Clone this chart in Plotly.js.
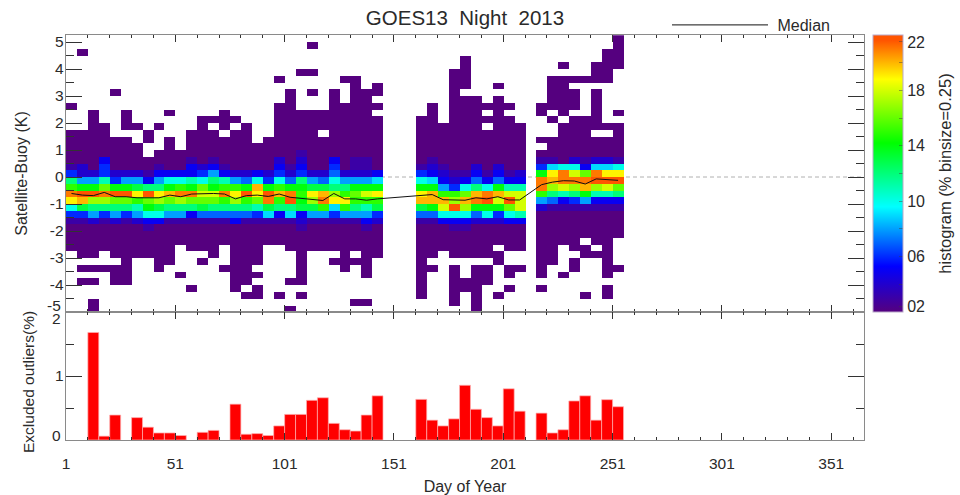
<!DOCTYPE html>
<html>
<head>
<meta charset="utf-8">
<script src="https://cdn.plot.ly/plotly-3.0.1.min.js"></script>
<style>html,body{margin:0;padding:0;background:#fff}</style>
</head>
<body>
<div id="chart" style="width:960px;height:495px"></div>
<script>
// Day of year: 5-day bins, bin index i starts on day 1+5i
const binDays = 5;
const binCount = 51;
const kBin = 0.25;

// Sparse histogram cells (~2 %): for each lower bin edge in K, inclusive column spans
const sparseRows = [
  [5.0,  [[50,50]]],
  [4.75, [[22,22],[50,50]]],
  [4.5,  [[1,1],[49,50]]],
  [4.25, [[36,36],[49,50]]],
  [4.0,  [[36,36],[45,45],[48,50]]],
  [3.75, [[21,22],[35,36],[48,49]]],
  [3.5,  [[19,19],[25,26],[35,36],[44,49]]],
  [3.25, [[26,26],[28,28],[35,36],[39,39],[44,45]]],
  [3.0,  [[4,4],[20,20],[22,22],[24,24],[26,28],[35,35],[44,46],[48,48]]],
  [2.75, [[20,20],[24,24],[26,27],[35,37],[39,39],[44,46],[48,48]]],
  [2.5,  [[0,0],[19,20],[24,28],[33,33],[35,40],[43,46],[48,48]]],
  [2.25, [[2,2],[5,5],[9,9],[14,14],[19,27],[33,33],[35,37],[39,39],[43,43],[45,45],[48,48],[50,50]]],
  [2.0,  [[2,2],[5,5],[12,15],[19,28],[32,33],[35,40],[44,44],[46,48]]],
  [1.75, [[2,3],[5,6],[8,8],[12,12],[14,14],[16,16],[19,28],[32,37],[39,41],[45,50]]],
  [1.5,  [[0,3],[7,7],[11,13],[15,16],[19,22],[24,28],[32,41],[45,47],[50,50]]],
  [1.25, [[0,5],[7,7],[9,9],[11,16],[18,28],[32,41],[43,50]]],
  [1.0,  [[0,6],[9,9],[11,28],[32,41],[44,50]]],
  [0.75, [[0,6],[8,28],[32,41],[43,50]]],
  [0.5,  [[0,28],[32,41],[43,50]]],
  [0.25, [[0,28],[32,41],[43,50]]],
  [0,    [[0,28],[32,41],[43,50]]],
  [-0.25,[[0,28],[32,41],[43,50]]],
  [-0.5, [[0,28],[32,41],[43,50]]],
  [-0.75,[[0,28],[32,41],[43,50]]],
  [-1,   [[0,28],[32,41],[43,50]]],
  [-1.25,[[0,28],[32,41],[43,50]]],
  [-1.5, [[0,28],[32,41],[43,50]]],
  [-1.75,[[0,28],[32,41],[43,50]]],
  [-2,   [[0,28],[32,41],[43,50]]],
  [-2.25,[[0,28],[32,41],[43,50]]],
  [-2.5, [[0,28],[32,41],[43,46],[48,49]]],
  [-2.75,[[0,9],[11,13],[15,17],[20,28],[32,38],[40,41],[43,44],[46,47],[49,49]]],
  [-3,   [[1,2],[4,9],[13,13],[15,17],[21,21],[25,25],[27,28],[32,33],[35,39],[43,44],[47,49]]],
  [-3.25,[[5,5],[8,9],[12,12],[15,17],[21,21],[24,27],[32,32],[39,39],[43,44],[46,46],[49,49]]],
  [-3.5, [[1,5],[8,8],[14,16],[21,21],[25,25],[27,27],[32,33],[35,35],[37,38],[40,41],[43,43],[46,46],[49,50]]],
  [-3.75,[[4,5],[10,10],[15,17],[21,21],[27,27],[32,32],[35,35],[37,38],[40,40],[43,43],[45,45],[49,49]]],
  [-4,   [[1,2],[4,5],[15,16],[20,21],[32,32],[35,38]]],
  [-4.25,[[11,11],[15,15],[17,17],[32,32],[35,37],[40,40],[43,43],[49,49]]],
  [-4.5, [[16,17],[19,19],[21,21],[32,32],[35,35],[37,37],[39,39],[47,47],[49,49]]],
  [-4.75,[[2,2],[26,27],[35,35],[37,37]]],
  [-5,   [[2,2],[20,20],[37,37]]]
];

// Lower bin edges of the dense core rows
const coreEdges = [0.75,0.5,0.25,0,-0.25,-0.5,-0.75,-1,-1.25,-1.5,-1.75,-2];
// Core histogram values (%) per column, same order as coreEdges
const coreValues = {
  0:[2,2,3,6,12,15,21,19,10,6,3,2],
  1:[2,2,4,4,8,14,22,20,13,6,3,2],
  2:[2,2,2,4,8,14,22,17,12,8,4,2],
  3:[2,5,6,6,11,16,21,17,12,6,3,2],
  4:[2,2,2,4,6,14,22,16,12,8,4,2],
  5:[2,2,2,4,8,14,22,16,12,6,3,2],
  6:[2,2,2,4,8,13,19,15,11,8,4,2],
  7:[2,2,2,3,5,12,22,16,14,10,5,3],
  8:[2,2,3,5,8,12,19,17,13,10,5,2],
  9:[2,2,2,5,10,14,20,16,12,8,3,2],
  10:[2,2,2,5,10,15,21,17,12,8,3,2],
  11:[2,3,5,5,11,14,21,16,12,5,3,2],
  12:[2,2,4,6,10,16,18,16,13,7,3,2],
  13:[2,3,5,8,12,14,18,16,12,7,3,2],
  14:[2,2,3,5,11,15,21,15,12,7,3,2],
  15:[2,2,2,4,8,15,19,17,12,7,5,2],
  16:[2,2,2,4,7,14,22,15,12,7,3,2],
  17:[2,2,2,5,10,20,19,16,11,6,3,2],
  18:[2,2,2,4,6,14,22,21,13,9,3,2],
  19:[2,4,5,6,10,15,20,15,12,5,3,2],
  20:[2,2,3,4,7,14,21,22,12,9,3,2],
  21:[3,4,5,6,12,14,15,14,13,5,4,3],
  22:[2,2,2,4,8,13,19,17,13,8,3,2],
  23:[2,2,2,4,7,13,20,21,15,8,3,2],
  24:[2,5,6,7,10,12,17,19,9,6,3,2],
  25:[2,2,2,4,8,12,15,19,15,8,3,2],
  26:[2,3,3,4,8,14,16,15,12,8,3,2],
  27:[2,3,3,4,8,14,18,15,11,8,5,3],
  28:[2,2,2,5,9,14,19,15,13,6,4,2],
  32:[2,2,3,6,10,14,19,20,13,7,3,2],
  33:[2,3,4,5,9,14,20,20,14,7,3,2],
  34:[2,2,3,4,5,8,15,20,18,10,5,2],
  35:[2,2,2,3,4,6,15,17,22,10,5,3],
  36:[2,2,2,3,5,10,16,20,17,10,5,3],
  37:[2,2,4,5,7,12,20,21,14,7,4,2],
  38:[2,2,2,3,5,10,21,22,14,10,4,2],
  39:[2,2,4,5,7,14,20,18,14,6,4,2],
  40:[2,2,2,3,5,11,18,22,16,10,5,2],
  41:[2,2,2,4,5,11,18,18,18,11,5,2],
  43:[2,3,6,14,21,21,15,8,4,2,2,2],
  44:[2,3,9,19,20,17,12,7,3,2,2,2],
  45:[2,2,10,21,21,18,11,5,3,2,2,2],
  46:[2,4,10,18,21,17,12,6,3,2,2,2],
  47:[2,3,5,16,21,20,14,8,3,2,2,2],
  48:[2,4,9,21,22,17,11,5,3,2,2,2],
  49:[2,4,9,19,22,18,11,5,3,2,2,2],
  50:[2,3,10,19,22,16,12,5,3,2,2,2]
};

// Median (K) per populated column
const medianCols = [0,1,2,3,4,5,6,7,8,9,10,11,12,13,14,15,16,17,18,19,20,21,22,23,24,25,26,27,28,32,33,34,35,36,37,38,39,40,41,43,44,45,46,47,48,49,50];
const medianK = [-0.61,-0.67,-0.69,-0.57,-0.73,-0.73,-0.77,-0.77,-0.77,-0.67,-0.73,-0.63,-0.61,-0.61,-0.63,-0.81,-0.69,-0.67,-0.72,-0.63,-0.75,-0.79,-0.81,-0.87,-0.61,-0.81,-0.81,-0.86,-0.81,
  -0.69,-0.65,-0.84,-0.86,-0.86,-0.77,-0.81,-0.73,-0.85,-0.85,
  -0.285,-0.19,-0.137,-0.148,-0.26,-0.07,-0.11,-0.123];

// Excluded outliers (%) per column (none in the others)
const outlierCols = [2,3,4,6,7,8,9,10,12,13,15,16,17,18,19,20,21,22,23,24,25,26,27,28,32,33,34,35,36,37,38,39,40,41,43,44,45,46,47,48,49,50];
const outlierPct = [1.68,0.06,0.39,0.35,0.20,0.11,0.11,0.07,0.12,0.15,0.56,0.09,0.10,0.07,0.22,0.40,0.40,0.62,0.66,0.26,0.16,0.14,0.39,0.69,
  0.635,0.31,0.22,0.33,0.855,0.48,0.35,0.22,0.80,0.45,
  0.42,0.11,0.16,0.61,0.69,0.31,0.63,0.52];

// Tick labels
const kTicks = [-5,-4,-3,-2,-1,0,1,2,3,4,5];
const kTickText = ['','-4','-3','-2','-1','0','1','2','3','4','5'];
const kMinor = [-4.5,-3.5,-2.5,-1.5,-0.5,0.5,1.5,2.5,3.5,4.5];
const pctTicks = [0,1,2];
const pctTickText = ['','1',''];
const pctMinor = [0.5,1.5];
const cbTicks = [2.4,4,6,8,10,12,14,16,18,20,21.5];
const cbText = ['02\u00a0\u00a0','','06\u00a0\u00a0','','10\u00a0\u00a0','','14\u00a0\u00a0','','18\u00a0\u00a0','','22\u00a0\u00a0'];

const ink = '#2a2a2a', frame = '#8a8a8a', family = '"Liberation Sans", Arial, sans-serif';
const labelSize = 15.5;
const centre = i => 1 + binDays * i + binDays / 2;

const rowEdges = sparseRows.map(r => r[0]).slice().reverse();
const zRows = rowEdges.map(edge => {
  const row = new Array(binCount).fill(null);
  sparseRows.find(r => r[0] === edge)[1].forEach(([a, b]) => { for (let c = a; c <= b; c++) row[c] = 2; });
  const k = coreEdges.indexOf(edge);
  if (k >= 0) Object.keys(coreValues).forEach(c => { if (row[c] !== null) row[c] = coreValues[c][k]; });
  return row;
});

const px = v => v / 960, py = v => 1 - v / 495;

const traces = [
  {
    type: 'heatmap', xaxis: 'x', yaxis: 'y', z: zRows,
    x: Array.from({length: binCount}, (_, i) => centre(i)),
    y: rowEdges.map(e => e + kBin / 2),
    zmin: 2, zmax: 22, hoverinfo: 'skip', showscale: true,
    colorscale: [[0,'#55007f'],[0.165,'#0000ff'],[0.38,'#00ffff'],[0.61,'#00ff00'],[0.84,'#ffff00'],[0.98,'#ff5500'],[1,'#ff5500']],
    colorbar: {
      x: px(873), xanchor: 'left', xpad: 0, y: py(312), yanchor: 'bottom', ypad: 0,
      len: 277 / 495, lenmode: 'fraction', thickness: 30, thicknessmode: 'pixels',
      outlinecolor: '#b9a9c9', outlinewidth: 1,
      tickmode: 'array', tickvals: cbTicks, ticktext: cbText, ticks: 'inside', ticklen: 4,
      tickcolor: 'rgba(60,60,60,0.45)', tickfont: {family, size: 16, color: ink},
      title: {text: 'histogram (% binsize=0.25)', side: 'right', font: {family, size: 16.5, color: ink}}
    }
  },
  {
    type: 'scatter', mode: 'lines', xaxis: 'x', yaxis: 'y', name: '\u00a0Median',
    x: medianCols.map(centre), y: medianK, hoverinfo: 'skip',
    line: {color: '#111', width: 1}, showlegend: true
  },
  {
    type: 'bar', xaxis: 'x2', yaxis: 'y2', x: outlierCols.map(centre), y: outlierPct, width: binDays,
    marker: {color: '#ff0000', line: {color: '#ffb0b0', width: 0.7}}, hoverinfo: 'skip', showlegend: false
  }
];

const sharedAxis = {
  showline: true, linecolor: frame, linewidth: 1.3, mirror: 'ticks', ticks: 'inside',
  tickcolor: '#333', tickwidth: 1, showgrid: false, zeroline: false,
  tickfont: {family, size: labelSize, color: ink}
};
const xBase = Object.assign({}, sharedAxis, {
  range: [1, 366], tickmode: 'linear', tick0: 1, dtick: 50, ticklen: 7,
  minor: {tick0: 1, dtick: 10, ticks: 'inside', ticklen: 3, tickcolor: '#333', showgrid: false}
});

const layout = {
  width: 960, height: 495, autosize: false, paper_bgcolor: '#fff', plot_bgcolor: '#fff',
  margin: {l: 0, r: 0, t: 0, b: 0}, bargap: 0, showlegend: true,
  font: {family, color: ink},
  title: {text: 'GOES13\u00a0\u00a0Night\u00a0\u00a02013', x: px(465), xanchor: 'center', y: py(18), yanchor: 'middle', font: {family, size: 20.5, color: ink}},
  legend: {x: px(667), xanchor: 'left', y: py(25), yanchor: 'middle', bgcolor: 'rgba(0,0,0,0)', itemwidth: 96, font: {family, size: 16, color: ink}},
  xaxis: Object.assign({}, xBase, {domain: [px(66), px(864)], anchor: 'y', showticklabels: false}),
  yaxis: Object.assign({}, sharedAxis, {
    domain: [py(312), py(35)], anchor: 'x', range: [-5, 5.26],
    tickmode: 'array', tickvals: kTicks, ticktext: kTickText, ticklen: 16,
    ticklabelstandoff: -2,
    minor: {tickmode: 'array', tickvals: kMinor, ticks: 'inside', ticklen: 8, tickcolor: '#333', showgrid: false},
    title: {text: 'Satellite-Buoy (K)', standoff: 18, font: {family, size: 16, color: ink}}
  }),
  xaxis2: Object.assign({}, xBase, {
    domain: [px(66), px(864)], anchor: 'y2', ticklabelstandoff: 9,
    title: {text: 'Day of Year', standoff: 11, font: {family, size: 16, color: ink}}
  }),
  yaxis2: Object.assign({}, sharedAxis, {
    domain: [py(440), py(312)], anchor: 'x2', range: [0, 2],
    tickmode: 'array', tickvals: pctTicks, ticktext: pctTickText, ticklen: 16,
    ticklabelstandoff: -2,
    minor: {tickmode: 'array', tickvals: pctMinor, ticks: 'inside', ticklen: 8, tickcolor: '#333', showgrid: false}
  }),
  shapes: [{type: 'line', xref: 'x', yref: 'y', x0: 1, x1: 366, y0: 0, y1: 0, layer: 'below', line: {color: '#b0b0b0', width: 1, dash: '4px,3px'}}],
  annotations: [
    {xref: 'paper', yref: 'paper', x: px(28), y: py(382), xanchor: 'center', yanchor: 'middle', textangle: -90, showarrow: false, text: 'Excluded outliers(%)', font: {family, size: 15.5, color: ink}},
    {xref: 'paper', yref: 'y', x: px(63), y: -5, yshift: 7, xanchor: 'right', yanchor: 'middle', showarrow: false, text: '-5', font: {family, size: labelSize, color: ink}},
    {xref: 'paper', yref: 'y2', x: px(63), y: 2, yshift: -6, xanchor: 'right', yanchor: 'middle', showarrow: false, text: '2', font: {family, size: labelSize, color: ink}},
    {xref: 'paper', yref: 'y2', x: px(63), y: 0, yshift: 5, xanchor: 'right', yanchor: 'middle', showarrow: false, text: '0', font: {family, size: labelSize, color: ink}}
  ]
};

Plotly.newPlot('chart', traces, layout, {displayModeBar: false, staticPlot: true});
</script>
</body>
</html>
